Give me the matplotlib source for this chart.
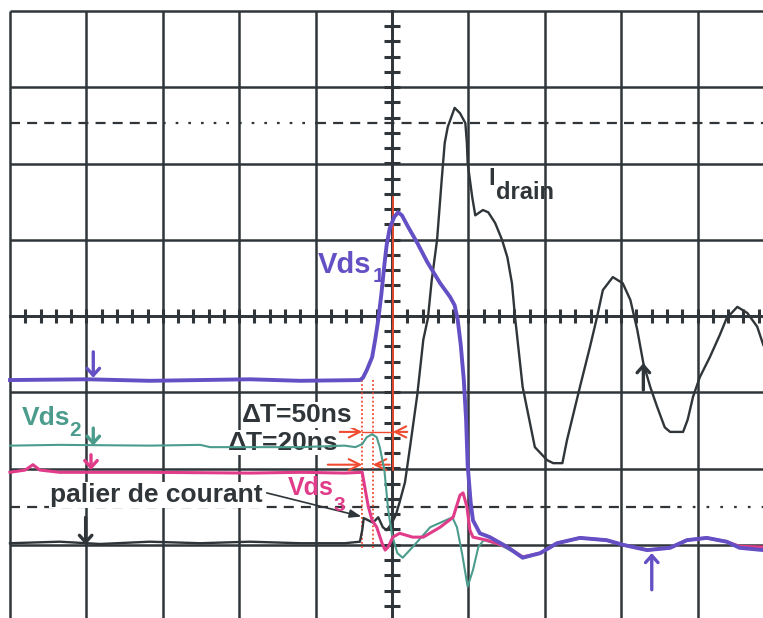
import numpy as np
import matplotlib
matplotlib.use('Agg')
import matplotlib.pyplot as plt

plt.rcParams['font.family'] = ['Liberation Sans', 'DejaVu Sans']

# scope screen in divisions: x 0..10 (left to right), y -4..4 (0 = centre line)
t_vds1 = [0, 1.02, 1.83, 3.14, 3.80, 4.58, 4.62, 4.67, 4.74, 4.78, 4.82,
          4.86, 4.90, 4.93, 4.97, 5.03, 5.08, 5.13, 5.21, 5.33, 5.46,
          5.63, 5.76, 5.82, 5.86, 5.90, 5.94, 5.97, 5.99, 6.03, 6.06,
          6.15, 6.28, 6.51, 6.71, 6.94, 7.16, 7.46, 7.81, 8.02, 8.34,
          8.64, 8.86, 9.12, 9.38, 9.55, 9.86]
v_vds1 = [-0.84, -0.83, -0.85, -0.83, -0.85, -0.84, -0.81, -0.71, -0.54, -0.31, -0.05,
          0.28, 0.67, 0.93, 1.15, 1.30, 1.36, 1.32, 1.17, 0.96, 0.71,
          0.43, 0.25, 0.14, -0.05, -0.38, -0.84, -1.36, -1.95, -2.45, -2.68,
          -2.85, -2.90, -3.03, -3.17, -3.11, -2.98, -2.91, -2.94, -3.00, -3.07,
          -3.04, -2.94, -2.91, -2.96, -3.04, -3.07]

t_vds2 = [0, 0.65, 1.83, 2.49, 2.62, 3.80, 4.38, 4.52, 4.61, 4.67,
          4.74, 4.80, 4.84, 4.90, 4.95, 5.00, 5.07, 5.14, 5.27, 5.50,
          5.79, 5.85, 5.92, 5.99, 6.06, 6.13, 6.20, 6.41, 6.71, 6.94,
          7.16, 7.46, 7.81, 8.02, 8.34, 8.64, 8.86, 9.12, 9.38, 9.55, 9.86]
v_vds2 = [-1.70, -1.69, -1.70, -1.69, -1.72, -1.72, -1.70, -1.72, -1.68, -1.59,
          -1.55, -1.59, -1.72, -2.02, -2.54, -2.87, -3.11, -3.17, -3.03, -2.77,
          -2.64, -2.77, -3.13, -3.55, -3.33, -3.03, -2.94, -3.00, -3.16, -3.11,
          -2.98, -2.91, -2.94, -3.00, -3.07, -3.04, -2.94, -2.91, -2.96, -3.02, -3.06]

t_vds3 = [0, 0.20, 0.30, 0.39, 0.65, 1.83, 3.14, 3.80, 4.38, 4.61,
          4.65, 4.69, 4.74, 4.80, 4.87, 4.91, 4.95, 5.01, 5.10, 5.27,
          5.41, 5.63, 5.80, 5.89, 5.93, 5.98, 6.02, 6.06, 6.24, 6.51,
          6.71, 6.94, 7.16, 7.46, 7.81, 8.02, 8.34, 8.64, 8.86, 9.12,
          9.38, 9.55, 9.86]
v_vds3 = [-2.05, -2.02, -1.95, -2.02, -2.05, -2.05, -2.06, -2.05, -2.06, -2.05,
          -2.28, -2.50, -2.68, -2.77, -2.98, -3.07, -3.03, -2.90, -2.85, -2.90,
          -2.90, -2.77, -2.64, -2.35, -2.32, -2.50, -2.81, -2.90, -2.94, -3.03,
          -3.16, -3.11, -2.98, -2.91, -2.94, -3.00, -3.07, -3.04, -2.94, -2.91,
          -2.96, -3.02, -3.03]

t_idrain = [0, 0.65, 1.18, 1.83, 2.49, 3.14, 3.80, 4.38,
            4.58, 4.61, 4.63, 4.69, 4.75, 4.82, 4.88, 4.93, 4.99, 5.05,
            5.10, 5.17, 5.24, 5.33, 5.41, 5.47, 5.52, 5.59, 5.65, 5.69,
            5.73, 5.82, 5.89, 5.96, 5.98, 5.99, 6.05, 6.09, 6.19, 6.26,
            6.35, 6.44, 6.51, 6.57, 6.61, 6.71, 6.87, 7.03, 7.11, 7.23,
            7.29, 7.46, 7.59, 7.68, 7.76, 7.89, 8.02, 8.12, 8.21, 8.29,
            8.38, 8.47, 8.57, 8.64, 8.81, 8.87, 8.94, 9.03, 9.16, 9.29,
            9.38, 9.52, 9.65, 9.78, 9.86]
i_drain = [-2.98, -2.96, -2.99, -2.96, -2.98, -2.96, -2.98, -2.98,
           -2.96, -2.81, -2.65, -2.68, -2.71, -2.64, -2.77, -2.81, -2.73, -2.61,
           -2.44, -2.18, -1.69, -1.04, -0.31, -0.03, 0.47, 1.00, 1.78, 2.27,
           2.48, 2.73, 2.66, 2.53, 2.27, 2.01, 1.56, 1.32, 1.39, 1.36,
           1.22, 1.00, 0.77, 0.43, -0.01, -0.93, -1.72, -1.89, -1.93, -1.93,
           -1.63, -0.93, -0.41, -0.03, 0.34, 0.51, 0.43, 0.21, -0.18, -0.62,
           -0.93, -1.19, -1.46, -1.52, -1.52, -1.36, -1.06, -0.80, -0.54, -0.25,
           -0.03, 0.12, 0.04, -0.14, -0.38]

# channel reference markers: x, tail y, tip y
mark_x = [1.09, 1.09, 1.06, 0.99, 8.40, 8.29]
mark_tail = [-0.47, -1.47, -1.82, -2.64, -3.59, -0.97]
mark_tip = [-0.81, -1.70, -2.02, -3.00, -3.11, -0.62]

# time cursors
cursor_x = [4.61, 4.75, 5.01]

purple = '#6450c4'
teal = '#4c9c8e'
pink = '#e03c8a'
dark = '#2f3538'
red = '#f04a30'
mark_col = [purple, teal, pink, dark, purple, dark]

fig = plt.figure(figsize=(7.63, 6.18), dpi=100)
ax = fig.add_axes([0, 0, 1, 1])
ax.set_xlim(-10 / 76.4, 753 / 76.4)
ax.set_ylim(-302 / 76.25, 316 / 76.25)
ax.axis('off')

# graticule
ax.vlines(np.arange(0, 11), -4, 4, color=dark, lw=1.8, zorder=1)
ax.hlines(np.arange(-4, 5), 0, 10, color=dark, lw=1.8, zorder=1)
ax.plot([5, 5], [-4, 4], color=dark, lw=2.0, zorder=1)
ax.plot([0, 10], [0, 0], color=dark, lw=2.0, zorder=1)
minor = np.arange(0.2, 10, 0.2)
ax.plot(minor, np.zeros_like(minor), ls='none', marker='|', ms=10, mew=2.2, color=dark, zorder=1)
minor_y = np.arange(-3.8, 4, 0.2)
ax.plot(np.full_like(minor_y, 5), minor_y, ls='none', marker='_', ms=11, mew=2.2, color=dark, zorder=1)

# 10% / 90% dashed levels
ax.plot([0, 2.0], [2.53, 2.53], color=dark, lw=1.6, ls=(0, (4.5, 3.2)), zorder=1)
ax.plot([2.0, 4.0], [2.53, 2.53], color=dark, lw=1.6, ls=(0, (1.2, 4.5)), zorder=1)
ax.plot([4.0, 10], [2.53, 2.53], color=dark, lw=1.6, ls=(0, (4.5, 3.2)), zorder=1)
ax.plot([0, 8.75], [-2.51, -2.51], color=dark, lw=1.6, ls=(0, (4.5, 3.2)), zorder=1)
ax.plot([8.75, 10], [-2.51, -2.51], color=dark, lw=1.6, ls=(0, (1.2, 5)), zorder=1)

# cursors
ax.plot([cursor_x[0]] * 2, [-0.84, -3.07], color=red, lw=1.3, ls=(0, (1, 1.3)), zorder=2)
ax.plot([cursor_x[1]] * 2, [-0.84, -3.07], color=red, lw=1.3, ls=(0, (1, 1.3)), zorder=2)
ax.plot([cursor_x[2]] * 2, [1.56, -2.02], color=red, lw=1.3, zorder=2)

arr = dict(arrowstyle='->, head_width=0.4, head_length=0.8', color=red, lw=1.5,
           shrinkA=0, shrinkB=0)
ax.annotate('', xy=(cursor_x[0], -1.52), xytext=(4.16, -1.52), arrowprops=arr, zorder=2)
ax.plot([cursor_x[0], cursor_x[2]], [-1.52, -1.52], color=red, lw=1.0, zorder=2)
ax.annotate('', xy=(cursor_x[2], -1.52), xytext=(5.20, -1.52), arrowprops=arr, zorder=2)
ax.annotate('', xy=(cursor_x[0], -1.95), xytext=(4.16, -1.95), arrowprops=arr, zorder=2)
ax.annotate('', xy=(cursor_x[1], -1.95), xytext=(4.97, -1.95), arrowprops=arr, zorder=2)

# traces
ax.plot(t_idrain, i_drain, color=dark, lw=1.7, zorder=3)
ax.plot(t_vds2, v_vds2, color=teal, lw=1.5, zorder=4)
ax.plot(t_vds3, v_vds3, color=pink, lw=2.2, zorder=4)
ax.plot(t_vds1, v_vds1, color=purple, lw=2.8, zorder=5)

# reference markers
for x, y0, y1, c in zip(mark_x, mark_tail, mark_tip, mark_col):
    ax.annotate('', xy=(x, y1), xytext=(x, y0),
                arrowprops=dict(arrowstyle='->, head_width=0.45, head_length=0.5',
                                color=c, lw=2.4, shrinkA=0, shrinkB=0), zorder=6)

# labels
wbox = dict(facecolor='white', edgecolor='none', pad=0.5)
ax.text(4.03, 0.67, 'Vds', color=purple, fontsize=21, fontweight='bold', va='center', zorder=6)
ax.text(4.74, 0.52, '1', color=purple, fontsize=15, fontweight='bold', va='center', zorder=6)
ax.text(0.16, -1.34, 'Vds', color=teal, fontsize=19, fontweight='bold', va='center', zorder=6)
ax.text(0.78, -1.50, '2', color=teal, fontsize=15, fontweight='bold', va='center', zorder=6)
ax.text(3.63, -2.26, 'Vds', color=pink, fontsize=18, fontweight='bold', va='center', zorder=6)
ax.text(4.24, -2.48, '3', color=pink, fontsize=15, fontweight='bold', va='center', zorder=6)
ax.text(6.26, 1.80, 'I', color=dark, fontsize=17, fontweight='bold', va='center', zorder=6)
ax.text(6.36, 1.62, 'drain', color=dark, fontsize=17, fontweight='bold', va='center', zorder=6)

ax.text(3.04, -1.30, '\u0394T=50ns', color=dark, fontsize=19, fontweight='bold',
        va='center', bbox=wbox, zorder=2.5)
ax.text(2.85, -1.66, '\u0394T=20ns', color=dark, fontsize=19, fontweight='bold',
        va='center', bbox=wbox, zorder=2.5)
ax.text(0.52, -2.35, 'palier de courant', color=dark, fontsize=19, fontweight='bold',
        va='center', bbox=wbox, zorder=2.5)
ax.annotate('', xy=(4.60, -2.63), xytext=(3.36, -2.32),
            arrowprops=dict(arrowstyle='-|>, head_width=0.25, head_length=0.7',
                            color=dark, lw=1.2, shrinkA=0, shrinkB=0), zorder=3)

fig.savefig('out.png', dpi=100, facecolor='white')
